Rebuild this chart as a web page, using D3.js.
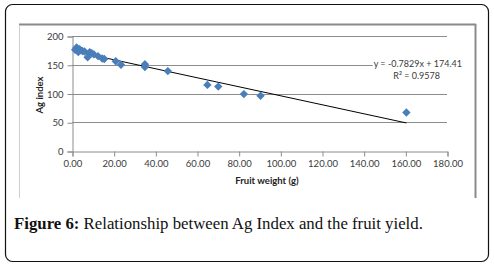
<!DOCTYPE html>
<html><head><meta charset="utf-8">
<script src="https://cdn.jsdelivr.net/npm/d3@7"></script>
<style>html,body{margin:0;padding:0;background:#fff;}svg{display:block;}</style>
</head><body>
<svg id="c" width="494" height="268"></svg>
<script>
const fruitWeight = [1.5, 2.2, 2.6, 3.0, 2.8, 3.6, 4.2, 5.0, 6.0, 7.5, 8.5, 9.5, 10.5, 12.5, 14.5, 15.5, 21.0, 23.5, 35.0, 35.0, 46.0, 65.0, 70.2, 82.5, 90.5, 160.5];
const agIndex     = [176, 180, 178, 172, 176, 177, 175, 174, 173, 163, 172, 170, 168, 165, 161, 160, 156, 150, 151, 146, 139, 115, 112, 99, 96, 67];
const xTicks = [0, 20, 40, 60, 80, 100, 120, 140, 160, 180];
const yTicks = [0, 50, 100, 150, 200];
const slope = -0.7829, intercept = 174.41;
const eqLabel = "y = -0.7829x + 174.41";
const r2Label = "R² = 0.9578";
const xTitle = "Fruit weight (g)";
const yTitle = "Ag index";
const captionBold = "Figure 6:";
const captionRest = " Relationship between Ag Index and the fruit yield.";

const svg = d3.select("#c");
const x = d3.scaleLinear().domain([0, 180]).range([72, 447]);
const y = d3.scaleLinear().domain([0, 200]).range([151, 36]);

// outer rounded frame
svg.append("rect").attr("x", 5.5).attr("y", 4.5).attr("width", 483).attr("height", 257)
  .attr("rx", 7).attr("fill", "#fff").attr("stroke", "#111").attr("stroke-width", 1.2);

// chart frame (cropped)
svg.append("line").attr("x1", 19).attr("x2", 476).attr("y1", 24.5).attr("y2", 24.5).attr("stroke", "#8a8a8a").attr("stroke-width", 2);
svg.append("line").attr("x1", 475.5).attr("x2", 475.5).attr("y1", 24).attr("y2", 198).attr("stroke", "#8a8a8a").attr("stroke-width", 2);
svg.append("line").attr("x1", 19.5).attr("x2", 19.5).attr("y1", 25).attr("y2", 198).attr("stroke", "#cfcfcf").attr("stroke-width", 1);

// gridlines
svg.append("g").selectAll("line").data(yTicks.filter(d => d > 0)).join("line")
  .attr("x1", x(0)).attr("x2", x(180)).attr("y1", d => Math.round(y(d)) + 0.5).attr("y2", d => Math.round(y(d)) + 0.5)
  .attr("stroke", "#8c8c8c").attr("stroke-width", 1);

// axes
const fontTick = "Lato, 'Open Sans', sans-serif";
const yAxis = svg.append("g").attr("transform", `translate(${x(0) + 0.5},0.5)`)
  .call(d3.axisLeft(y).tickValues(yTicks).tickSize(5).tickPadding(4).tickFormat(d3.format("d")));
const xAxis = svg.append("g").attr("transform", `translate(0.5,${Math.round(y(0)) + 0.5})`)
  .call(d3.axisBottom(x).tickValues(xTicks).tickSize(5).tickPadding(4).tickFormat(d3.format(".2f")));
[yAxis, xAxis].forEach(a => {
  a.select(".domain").attr("stroke", "#8c8c8c");
  a.selectAll(".tick line").attr("stroke", "#8c8c8c");
  a.selectAll(".tick text").attr("fill", "#3a3a3a").style("font-family", fontTick).style("font-size", "9.5px");
});

// trendline
const xMin = d3.min(fruitWeight), xMax = d3.max(fruitWeight);
svg.append("line")
  .attr("x1", x(xMin)).attr("y1", y(slope * xMin + intercept))
  .attr("x2", x(xMax)).attr("y2", y(slope * xMax + intercept))
  .attr("stroke", "#000").attr("stroke-width", 1);

// points
const pts = fruitWeight.map((v, i) => [v, agIndex[i]]);
svg.append("g").selectAll("path").data(pts).join("path")
  .attr("d", d => { const cx = x(d[0]), cy = y(d[1]), r = 4.2; return `M${cx},${cy - r}L${cx + r},${cy}L${cx},${cy + r}L${cx - r},${cy}Z`; })
  .attr("fill", "#4a7ebb");

// equation labels
const eq = svg.append("g").style("font-family", fontTick).style("font-size", "9px").attr("fill", "#3a3a3a");
const eqT = eq.append("text").attr("x", 462).attr("y", 66.5).attr("text-anchor", "end").text(eqLabel);
const bb = eqT.node().getBBox();
eq.insert("rect", "text").attr("x", bb.x - 1).attr("y", bb.y + 1).attr("width", bb.width + 2).attr("height", bb.height - 2).attr("fill", "#fff");
eq.append("text").attr("x", 440).attr("y", 79).attr("text-anchor", "end").text(r2Label);

// axis titles
svg.append("text").attr("x", 267).attr("y", 183.5).attr("text-anchor", "middle")
  .style("font-family", fontTick).style("font-size", "9.5px").style("font-weight", "bold").attr("fill", "#222").text(xTitle);
svg.append("text").attr("transform", "translate(43,95) rotate(-90)").attr("text-anchor", "middle")
  .style("font-family", fontTick).style("font-size", "9.5px").style("font-weight", "bold").attr("fill", "#222").text(yTitle);

// caption
const cap = svg.append("text").attr("x", 14).attr("y", 229)
  .style("font-family", "'Liberation Serif', 'DejaVu Serif', serif").style("font-size", "16.8px").attr("fill", "#111");
cap.append("tspan").style("font-weight", "bold").text(captionBold);
cap.append("tspan").text(captionRest);
</script>
</body></html>
